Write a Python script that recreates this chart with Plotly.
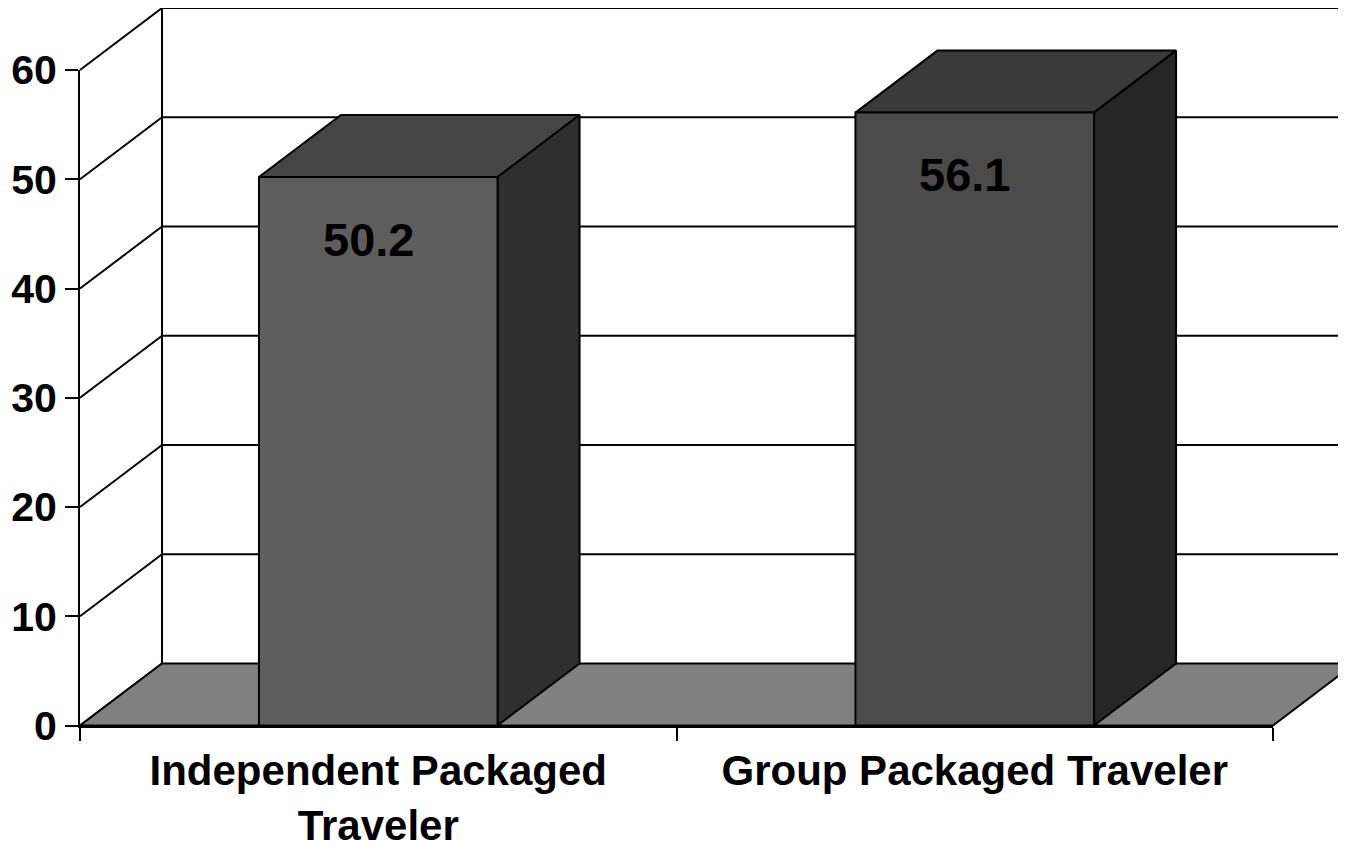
import plotly.graph_objects as go

# ---- data ----
categories = ["Independent Packaged<br>Traveler", "Group Packaged Traveler"]
values = [50.2, 56.1]
y_ticks = [0, 10, 20, 30, 40, 50, 60]
front_colors = ["#5e5e5e", "#4b4b4b"]
top_colors = ["#454545", "#3a3a3a"]
side_colors = ["#2f2f2f", "#262626"]

# ---- layout constants (pixels, page coordinates) ----
PAGE_OFF = 8                      # default body margin of the html page
W, H = 1346 - PAGE_OFF, 843 - PAGE_OFF
PLOT_L, PLOT_R = 80 - PAGE_OFF, 1273 - PAGE_OFF
Y0_PX, YMAX_PX = 725.5 - PAGE_OFF, 70 - PAGE_OFF
YMAX = 60
DEPTH_DX_PX, DEPTH_DY_PX = 82, 62
BAR_FRAC = 0.4
FONT = "Liberation Sans, Arial, sans-serif"

n = len(categories)
px_per_cat = (PLOT_R - PLOT_L) / n
px_per_val = (Y0_PX - YMAX_PX) / YMAX
dx = DEPTH_DX_PX / px_per_cat
dy = DEPTH_DY_PX / px_per_val
xl, xr = -0.5, n - 0.5

x_range = [xl - PLOT_L / px_per_cat, xr + (W - PLOT_R) / px_per_cat]
y_range = [-(H - Y0_PX) / px_per_val, Y0_PX / px_per_val]

fig = go.Figure()
LINE = dict(color="black", width=2)


def poly(xs, ys, fill):
    fig.add_trace(go.Scatter(
        x=xs + [xs[0]], y=ys + [ys[0]], mode="lines", fill="toself",
        fillcolor=fill, line=LINE, hoverinfo="skip", showlegend=False))


def seg(xs, ys):
    fig.add_trace(go.Scatter(x=xs, y=ys, mode="lines", line=LINE,
                             hoverinfo="skip", showlegend=False))


# back wall gridlines and side wall lines
for v in y_ticks:
    if v > 0:
        seg([xl + dx, xr + dx], [v + dy, v + dy])
    seg([xl, xl + dx], [v, v + dy])
seg([xl + dx, xl + dx], [dy, YMAX + dy])

# floor
poly([xl, xr, xr + dx, xl + dx], [0, 0, dy, dy], "#808080")

# bars
for i, v in enumerate(values):
    a, b = i - BAR_FRAC / 2, i + BAR_FRAC / 2
    poly([a, b, b + dx, a + dx], [v, v, v + dy, v + dy], top_colors[i])
    poly([b, b + dx, b + dx, b], [0, dy, v + dy, v], side_colors[i])
    poly([a, b, b, a], [0, 0, v, v], front_colors[i])
    fig.add_annotation(x=i, y=v, xref="x", yref="y", text=f"{v:.1f}",
                       showarrow=False, xshift=-10, yshift=-62,
                       font=dict(family=FONT, size=47, color="black", weight="bold"))

# dummy trace to create labelled axes subplot
fig.add_trace(go.Scatter(x=[], y=[], xaxis="x2", yaxis="y2", showlegend=False))

fig.update_layout(
    width=W, height=H,
    margin=dict(l=0, r=0, t=0, b=0),
    paper_bgcolor="white", plot_bgcolor="rgba(0,0,0,0)",
    showlegend=False,
    xaxis=dict(domain=[0, 1], range=x_range, visible=False, fixedrange=True),
    yaxis=dict(domain=[0, 1], range=y_range, visible=False, fixedrange=True),
    xaxis2=dict(
        domain=[PLOT_L / W, PLOT_R / W], range=[xl, xr], anchor="y2",
        tickmode="array", tickvals=list(range(n)), ticktext=categories,
        ticks="", showline=True, linecolor="black", linewidth=2,
        showgrid=False, zeroline=False, automargin=False, ticklabelstandoff=7,
        tickfont=dict(family=FONT, size=42, color="black", weight="bold"),
        minor=dict(tickmode="array", tickvals=[k - 0.5 for k in range(n + 1)],
                   ticks="outside", ticklen=13, tickwidth=2, tickcolor="black",
                   showgrid=False),
        fixedrange=True,
    ),
    yaxis2=dict(
        domain=[(H - Y0_PX) / H, (H - YMAX_PX) / H], range=[0, YMAX], anchor="x2",
        tickmode="array", tickvals=y_ticks, ticks="outside", ticklen=13,
        tickwidth=2, tickcolor="black", showline=True, linecolor="black",
        linewidth=2, showgrid=False, zeroline=False, automargin=False,
        tickfont=dict(family=FONT, size=41, color="black", weight="bold"),
        fixedrange=True,
    ),
)

fig.write_html("out.html", config={"displayModeBar": False})
